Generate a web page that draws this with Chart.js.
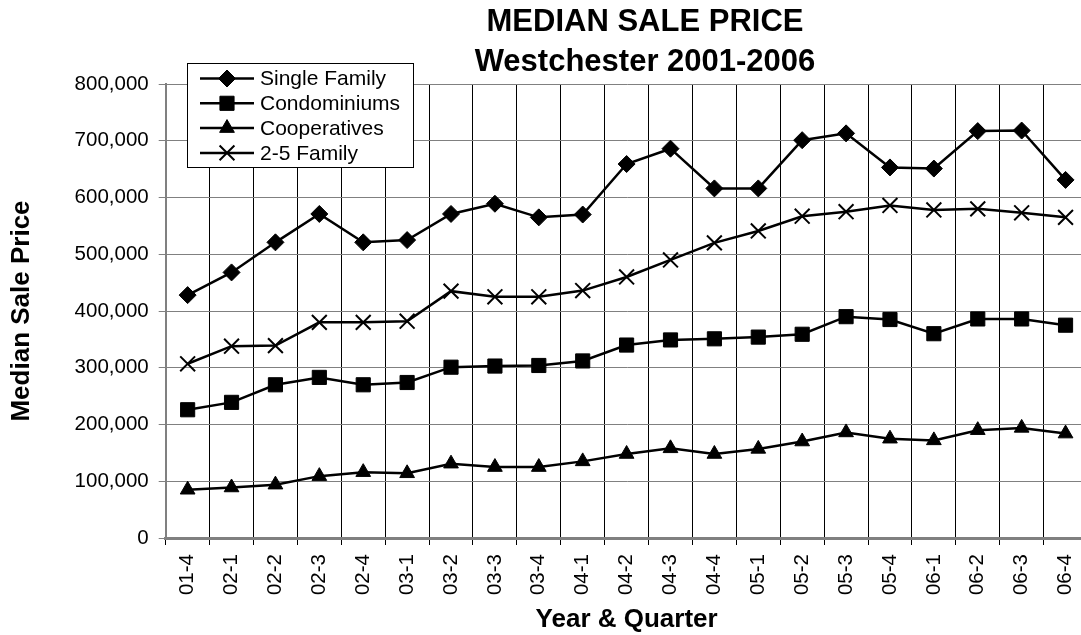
<!DOCTYPE html>
<html>
<head>
<meta charset="utf-8">
<script src="https://cdn.jsdelivr.net/npm/chart.js@4.4.1/dist/chart.umd.min.js"></script>
<style>
  html, body { margin: 0; padding: 0; background: #fff; overflow: hidden; width: 1081px; height: 635px; }
  #wrap { width: 1100px; height: 635px; }
</style>
</head>
<body>
<div id="wrap"><canvas id="c" width="1100" height="635"></canvas></div>
<script>
const categories = ['01-4','02-1','02-2','02-3','02-4','03-1','03-2','03-3','03-4','04-1','04-2','04-3','04-4','05-1','05-2','05-3','05-4','06-1','06-2','06-3','06-4'];
const singleFamily = [428000,468000,521000,571000,521000,525000,571000,589000,565000,570000,659000,686000,616000,616000,701000,713000,653000,651000,717000,718000,631000];
const condominiums = [226000,239000,270000,283000,270000,274000,301000,303000,304000,312000,340000,349000,351000,354000,359000,390000,385000,360000,386000,386000,375000];
const cooperatives = [85000,89000,94000,109000,116000,114000,131000,125000,125000,135000,148000,158000,148000,157000,170000,186000,175000,172000,190000,194000,184000];
const twoToFiveFamily = [307000,338000,339000,380000,380000,382000,435000,425000,425000,436000,460000,490000,520000,541000,567000,575000,586000,578000,580000,573000,565000];
const seriesNames = ['Single Family','Condominiums','Cooperatives','2-5 Family'];
const titleLines = ['MEDIAN SALE PRICE','Westchester 2001-2006'];
const yTitle = 'Median Sale Price';
const xTitle = 'Year & Quarter';

const FONT = "'Liberation Sans', Arial, Helvetica, sans-serif";

function mk(label, data, style, radius, bw) {
  return {
    label, data,
    borderColor: '#000', backgroundColor: '#000', borderWidth: 2.5,
    pointStyle: style, pointRadius: radius, pointHoverRadius: radius,
    pointBackgroundColor: '#000', pointBorderColor: '#000', pointBorderWidth: bw,
    tension: 0, fill: false, clip: false
  };
}

const datasets = [
  mk(seriesNames[0], singleFamily, 'rectRot', 8.5, 1),
  mk(seriesNames[1], condominiums, 'rect', 10, 1),
  mk(seriesNames[2], cooperatives, 'triangle', 8.5, 1),
  mk(seriesNames[3], twoToFiveFamily, 'crossRot', 10.5, 2)
];

function drawMarker(ctx, style, r, x, y, bw) {
  ctx.save();
  ctx.fillStyle = '#000'; ctx.strokeStyle = '#000'; ctx.lineWidth = bw;
  ctx.beginPath();
  if (Chart.helpers && Chart.helpers.drawPoint) {
    Chart.helpers.drawPoint(ctx, {pointStyle: style, radius: r, rotation: 0, borderWidth: bw}, x, y);
  } else {
    if (style === 'rectRot') { ctx.moveTo(x, y - r); ctx.lineTo(x + r, y); ctx.lineTo(x, y + r); ctx.lineTo(x - r, y); ctx.closePath(); ctx.fill(); ctx.stroke(); }
    else if (style === 'rect') { const s = r * Math.SQRT1_2; ctx.rect(x - s, y - s, 2 * s, 2 * s); ctx.fill(); ctx.stroke(); }
    else if (style === 'triangle') { ctx.moveTo(x, y - r); ctx.lineTo(x + r * 0.866, y + r / 2); ctx.lineTo(x - r * 0.866, y + r / 2); ctx.closePath(); ctx.fill(); ctx.stroke(); }
    else { const s = r * Math.SQRT1_2; ctx.moveTo(x - s, y - s); ctx.lineTo(x + s, y + s); ctx.moveTo(x + s, y - s); ctx.lineTo(x - s, y + s); ctx.stroke(); }
  }
  ctx.restore();
}

const customPlugin = {
  id: 'custom',
  afterDraw(chart) {
    const ctx = chart.ctx;
    // Title
    ctx.save();
    ctx.fillStyle = '#000';
    ctx.font = "bold 31px " + FONT;
    ctx.textAlign = 'center';
    ctx.textBaseline = 'middle';
    ctx.fillText(titleLines[0], 645, 22);
    ctx.fillText(titleLines[1], 645, 62);
    ctx.restore();
    // Legend
    const bx = 187, by = 63, bw = 226, bh = 104;
    ctx.save();
    ctx.fillStyle = '#fff';
    ctx.fillRect(bx, by, bw, bh);
    ctx.strokeStyle = '#000';
    ctx.lineWidth = 1;
    ctx.strokeRect(bx + 0.5, by + 0.5, bw, bh);
    ctx.font = "21px " + FONT;
    ctx.textBaseline = 'middle';
    ctx.textAlign = 'left';
    chart.data.datasets.forEach((ds, i) => {
      const y = 78.5 + i * 24.8;
      ctx.strokeStyle = '#000';
      ctx.lineWidth = 2.5;
      ctx.beginPath();
      ctx.moveTo(200, y); ctx.lineTo(254, y);
      ctx.stroke();
      drawMarker(ctx, ds.pointStyle, ds.pointRadius, 227, y, ds.pointBorderWidth);
      ctx.fillStyle = '#000';
      ctx.fillText(ds.label, 260, y + 1);
    });
    ctx.restore();
  }
};

new Chart(document.getElementById('c'), {
  type: 'line',
  data: { labels: categories, datasets },
  options: {
    responsive: false,
    animation: false,
    devicePixelRatio: 1,
    layout: { padding: { top: 84, left: 0, right: 10.3, bottom: 0 } },
    plugins: { legend: { display: false }, title: { display: false }, tooltip: { enabled: false } },
    scales: {
      x: {
        type: 'category',
        offset: true,
        afterFit(s) { s.height = 97; },
        grid: { offset: true, color: '#000', lineWidth: 1, tickLength: 7, tickColor: '#000', drawOnChartArea: true },
        border: { color: '#808080', width: 3 },
        ticks: { autoSkip: false, minRotation: 90, maxRotation: 90, padding: 9, color: '#000', font: { family: FONT, size: 20.5 } },
        title: { display: true, text: xTitle, color: '#000', font: { family: FONT, size: 26, weight: 'bold', lineHeight: 1.2 }, padding: { top: 0, bottom: 0 } }
      },
      y: {
        min: 0, max: 800000,
        afterFit(s) { s.width = 165.7; },
        ticks: { stepSize: 100000, padding: 10, color: '#000', font: { family: FONT, size: 20.5 },
          callback: v => Number(v).toLocaleString('en-US') },
        grid: { color: '#808080', lineWidth: 1, tickLength: 7, tickColor: '#808080' },
        border: { color: '#808080', width: 2 },
        title: { display: true, text: yTitle, color: '#000', font: { family: FONT, size: 26, weight: 'bold', lineHeight: 1.2 }, padding: { top: 6, bottom: 0 } }
      }
    }
  },
  plugins: [customPlugin]
});
</script>
</body>
</html>
